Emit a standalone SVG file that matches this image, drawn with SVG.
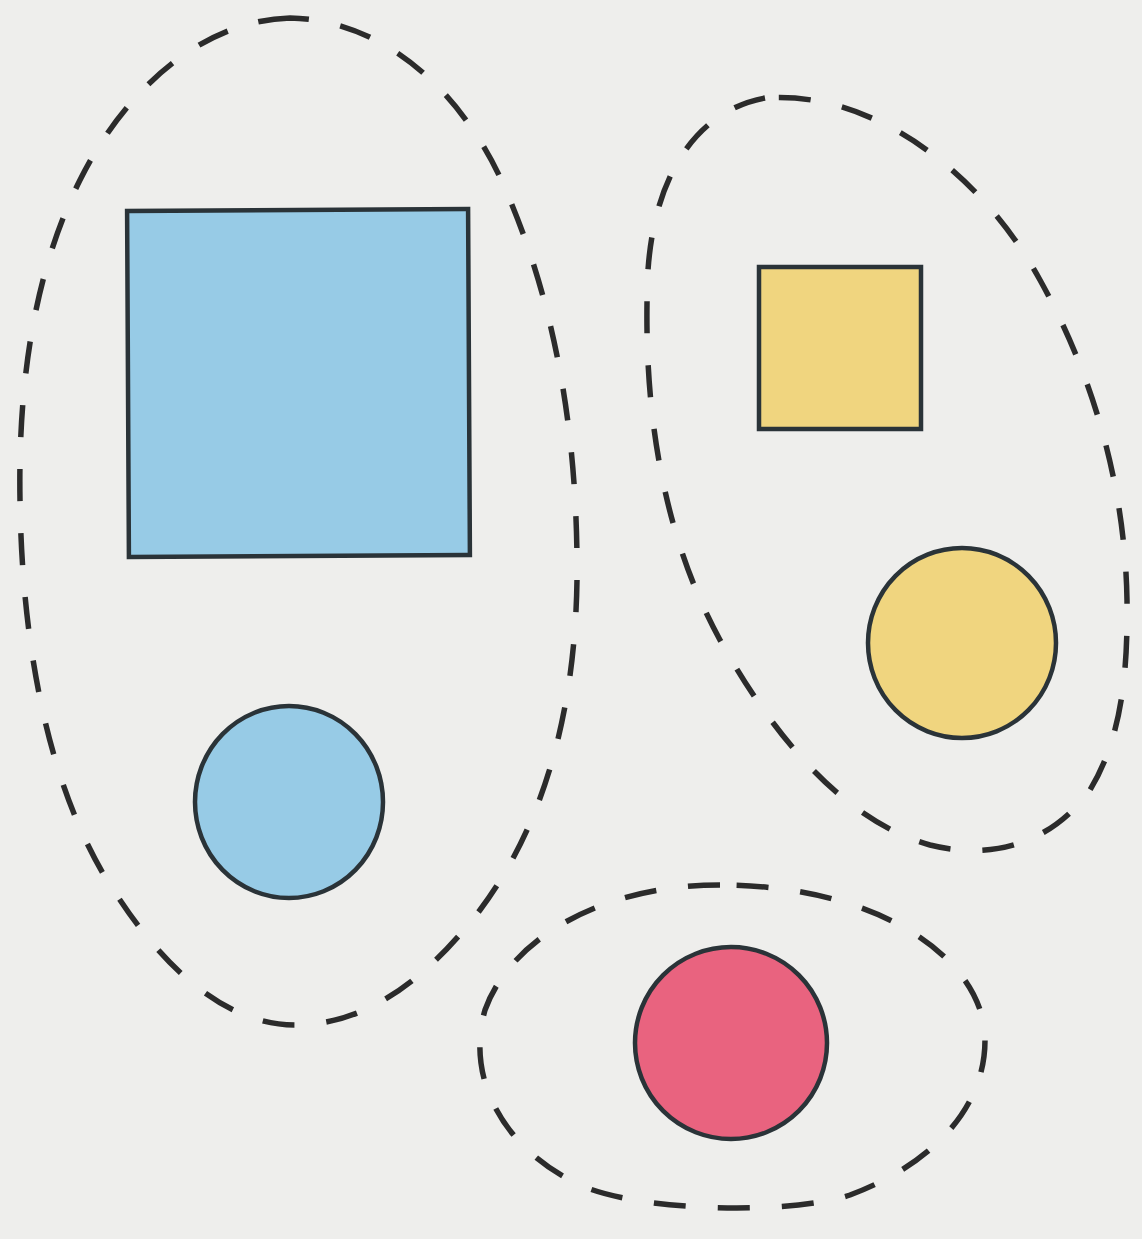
<svg xmlns="http://www.w3.org/2000/svg" width="1142" height="1239" viewBox="0 0 1142 1239">
<style>
.loop{fill:none;stroke:#2b2b2b;stroke-width:5.5;stroke-dasharray:32 32;stroke-linecap:butt}
.shape{stroke:#2a3338;stroke-width:4.5}
.blue{fill:#97cbe6}
.yellow{fill:#f0d57f}
.red{fill:#e9637f}
</style>
<rect width="1142" height="1239" fill="#eeeeec"/>
<g id="loops">
<path id="loop-left" class="loop" d="M 290,18 C 210,20 130,80 80,180 C 35,270 18,380 20,500 C 22,650 50,800 120,900 C 170,975 230,1025 295,1025 C 370,1025 430,975 480,910 C 540,830 575,720 577,580 C 578,450 560,320 510,200 C 470,100 390,20 290,18 Z"/>
<path id="loop-right" class="loop" d="M 765,98 C 700,110 655,170 648,270 C 642,400 660,530 720,640 C 770,730 840,820 930,845 C 990,860 1050,845 1090,790 C 1120,740 1128,680 1127,600 C 1125,480 1090,370 1040,280 C 980,170 870,90 765,98 Z"/>
<path id="loop-bottom" class="loop" d="M 720,885 C 600,885 510,940 485,1010 C 465,1080 505,1150 580,1185 C 640,1212 790,1215 850,1195 C 930,1165 985,1110 985,1040 C 985,960 880,885 720,885 Z"/>
</g>
<g id="blue-square"><rect class="shape blue" x="128" y="210" width="341" height="346" transform="rotate(-0.3 298 383)"/></g>
<g id="blue-circle"><ellipse class="shape blue" cx="289" cy="802" rx="94" ry="96"/></g>
<g id="yellow-square"><rect class="shape yellow" x="759" y="267" width="162" height="162"/></g>
<g id="yellow-circle"><ellipse class="shape yellow" cx="962" cy="643" rx="94" ry="95"/></g>
<g id="red-circle"><ellipse class="shape red" cx="731" cy="1043" rx="96" ry="96"/></g>
</svg>
